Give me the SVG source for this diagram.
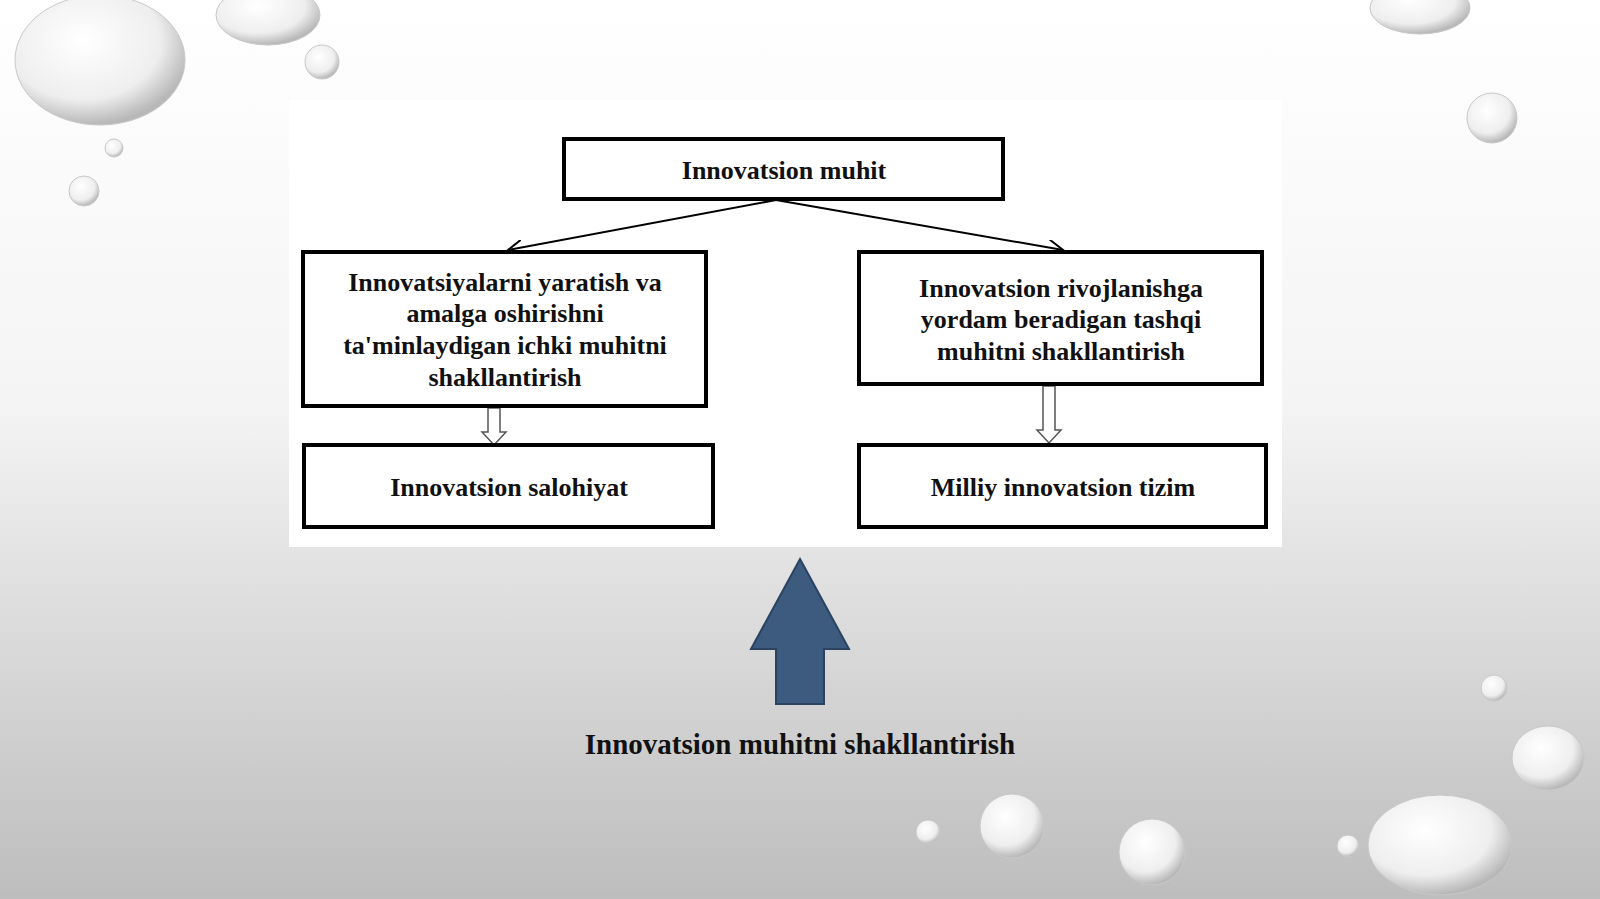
<svg xmlns="http://www.w3.org/2000/svg" width="1600" height="899" viewBox="0 0 1600 899">
<defs>
<linearGradient id="bg" x1="0" y1="0" x2="0" y2="1">
<stop offset="0" stop-color="#ffffff"/><stop offset="0.45" stop-color="#f4f4f4"/><stop offset="1" stop-color="#bdbdbd"/>
</linearGradient>
<radialGradient id="drop" cx="0.4" cy="0.35" r="0.65">
<stop offset="0" stop-color="#ffffff"/><stop offset="0.7" stop-color="#eeeeee"/><stop offset="1" stop-color="#b8b8b8"/>
</radialGradient>
<marker id="open" markerWidth="18" markerHeight="16" refX="15" refY="8" orient="auto" markerUnits="userSpaceOnUse">
<path d="M0,0 L15,8 L0,16" fill="none" stroke="#000" stroke-width="2"/>
</marker>
</defs>
<style>
.box{fill:#fff;stroke:#000;stroke-width:4}
.t{font-family:"Liberation Serif",serif;font-weight:bold;font-size:26px;fill:#111;text-anchor:middle}
.drop{fill:url(#drop);stroke:#c8c8c8;stroke-width:1}
.hol{fill:#fff;stroke:#555;stroke-width:1.5}
</style>
<rect width="1600" height="899" fill="url(#bg)"/>
<g id="drops">
<ellipse class="drop" cx="100" cy="60" rx="85" ry="65"/>
<ellipse class="drop" cx="268" cy="15" rx="52" ry="30"/>
<circle class="drop" cx="322" cy="62" r="17"/>
<circle class="drop" cx="114" cy="148" r="9"/>
<circle class="drop" cx="84" cy="191" r="15"/>
<ellipse class="drop" cx="1420" cy="8" rx="50" ry="26"/>
<circle class="drop" cx="1492" cy="118" r="25"/>
<circle class="drop" cx="1494" cy="688" r="13"/>
<ellipse class="drop" cx="1548" cy="758" rx="36" ry="32"/>
<ellipse class="drop" cx="1440" cy="845" rx="72" ry="50"/>
<circle class="drop" cx="1348" cy="846" r="11"/>
<circle class="drop" cx="1012" cy="826" r="32"/>
<circle class="drop" cx="1152" cy="852" r="33"/>
<circle class="drop" cx="928" cy="832" r="12"/>
</g>
<rect x="289" y="100" width="993" height="447" fill="#fff"/>
<g id="connectors">
<line x1="776" y1="200" x2="508" y2="250" stroke="#000" stroke-width="2" marker-end="url(#open)"/>
<line x1="776" y1="200" x2="1063" y2="250" stroke="#000" stroke-width="2" marker-end="url(#open)"/>
<path class="hol" d="M488,408 L500,408 L500,432 L506,432 L494,445 L482,432 L488,432 Z"/>
<path class="hol" d="M1043,386 L1055,386 L1055,430 L1061,430 L1049,443 L1037,430 L1043,430 Z"/>
</g>
<g id="n-top"><rect class="box" x="564" y="139" width="439" height="60"/><text class="t" x="784" y="179">Innovatsion muhit</text></g>
<g id="n-left"><rect class="box" x="303" y="252" width="403" height="154"/>
<text class="t" x="505" y="291">Innovatsiyalarni yaratish va</text>
<text class="t" x="505" y="322">amalga oshirishni</text>
<text class="t" x="505" y="354">ta'minlaydigan ichki muhitni</text>
<text class="t" x="505" y="386">shakllantirish</text></g>
<g id="n-right"><rect class="box" x="859" y="252" width="403" height="132"/>
<text class="t" x="1061" y="297">Innovatsion rivojlanishga</text>
<text class="t" x="1061" y="328">yordam beradigan tashqi</text>
<text class="t" x="1061" y="360">muhitni shakllantirish</text></g>
<g id="n-bl"><rect class="box" x="304" y="445" width="409" height="82"/><text class="t" x="509" y="496">Innovatsion salohiyat</text></g>
<g id="n-br"><rect class="box" x="859" y="445" width="407" height="82"/><text class="t" x="1063" y="496">Milliy innovatsion tizim</text></g>
<g id="bigarrow"><path d="M800,559 L849,649 L824,649 L824,704 L776,704 L776,649 L751,649 Z" fill="#3d5a7f" stroke="#2b4260" stroke-width="2"/></g>
<text class="t" x="800" y="754" style="font-size:29px">Innovatsion muhitni shakllantirish</text>
</svg>
